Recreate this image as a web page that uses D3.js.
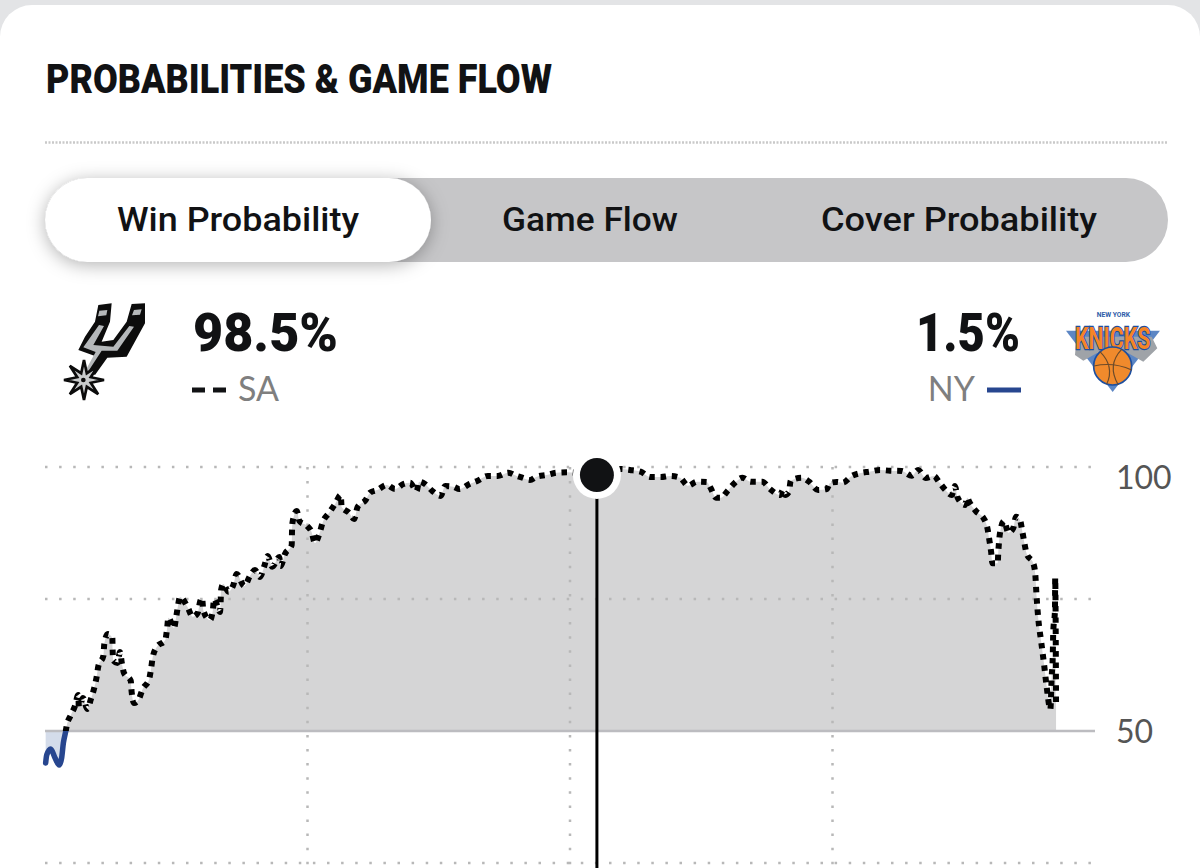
<!DOCTYPE html>
<html>
<head>
<meta charset="utf-8">
<script src="https://cdnjs.cloudflare.com/ajax/libs/d3/7.8.5/d3.min.js"></script>
<style>
  html, body { margin: 0; padding: 0; background: #fff; overflow: hidden; }
  svg { display: block; }
</style>
</head>
<body>
<div id="container"></div>
<script>
var svgWidth = 1200;
var svgHeight = 868;

// game clock in minutes and SA win probability
var gameMinutes = [0.03,0.08,0.26,0.46,0.65,0.76,0.84,0.95,0.99,1.17,1.37,1.52,1.55,1.74,1.93,2.10,2.25,2.36,2.44,2.67,
    2.71,2.87,3.08,3.09,3.12,3.31,3.43,3.51,3.61,3.92,3.96,4.07,4.27,4.47,4.75,4.85,4.92,5.11,5.50,5.58,
    5.64,5.90,5.99,6.07,6.17,6.51,6.75,6.98,7.09,7.18,7.24,7.54,7.67,7.73,8.00,8.03,8.05,8.15,8.38,8.61,
    8.76,9.11,9.37,9.60,9.83,10.03,10.18,10.39,10.71,10.77,10.97,11.28,11.29,11.32,11.51,11.63,11.98,12.18,12.34,12.54,
    12.69,12.98,13.26,13.52,13.56,13.91,14.13,14.29,14.66,14.86,15.19,15.62,16.00,16.38,16.69,16.99,17.10,17.37,17.71,18.09,
    18.29,18.67,18.94,19.40,19.78,20.24,20.69,21.18,21.56,21.82,22.17,22.48,22.93,23.39,23.88,25.23,26.29,26.74,27.23,27.66,
    28.16,28.57,29.03,29.39,29.81,30.25,30.43,30.67,30.90,31.21,31.54,31.89,32.26,32.79,33.14,33.60,33.74,33.83,34.01,34.09,
    34.59,34.93,35.34,35.74,35.89,36.19,36.47,36.88,37.29,37.68,38.17,38.63,39.16,39.62,39.92,40.26,40.64,40.87,41.19,41.45,
    41.60,41.72,42.06,42.16,42.25,42.55,42.93,43.09,43.17,43.25,43.31,43.55,43.58,43.62,43.69,43.84,44.04,44.26,44.39,44.57,
    44.68,44.77,44.88,45.18,45.27,45.33,45.41,45.54,45.67,45.79,45.96,46.02,46.07,46.09,46.17,46.18,46.22];
var winProb = [43.94,45.46,46.59,44.89,43.56,44.89,47.73,50,50.95,52.9,54.74,56.82,54.6,56.25,54.17,56.06,58.14,60.23,62.31,64.26,
    66.48,68.37,67.61,65.53,63.32,62.88,64.96,62.94,60.99,59.53,57.44,55.3,55.87,58.01,59.66,61.8,63.88,65.91,67.24,69.38,
    71.46,69.51,71.4,73.49,75.38,73.54,71.65,72.35,74.49,75.19,72.78,71.02,72.78,75,72.54,74.49,76.71,77.84,76.38,77.65,
    79.74,77.46,79.36,80.49,79.17,81.31,83.14,81.12,82.95,81.25,83.52,85.23,87.5,89.64,91.67,89.77,88.83,87.75,85.61,87.31,
    89.45,91.29,92.99,94.7,92.42,91.29,90.15,92.42,93.75,95.13,95.64,96.59,95.83,96.78,97.03,95.45,97.22,96.78,95.45,94.51,
    96.4,96.27,95.83,96.78,97.41,98.3,98.3,98.92,98.3,97.97,97.54,98.16,98.48,98.92,99,98.5,99.62,99.43,99.11,98.11,
    98.11,98.3,97.97,96.46,97.22,97.16,96.02,94.19,94.19,95.51,97.03,97.97,97.22,97.22,95.83,94.7,95.64,94.7,95.32,97.41,
    97.97,97.22,95.64,95.83,96.97,97.16,97.03,98.3,98.86,99.11,99.43,99.3,99.24,98.35,99.43,97.92,98.3,97.16,95.51,94.7,
    96.4,94.19,92.8,94.19,93.43,91.67,90.15,88.26,86.17,83.96,81.76,81.76,83.96,86.17,88.26,89.77,87.56,88.39,90.59,89.96,
    87.75,85.66,83.52,81.76,79.68,75.44,71.16,66.91,62.69,58.39,54.11,60.23,64.4,68.62,72.92,78.92,54.93];

var yTickLabels = [100, 50];
var yGridValues = [100, 75, 25];
var quarterBreaks = [12, 24, 36];
var tabNames = ['Win Probability', 'Game Flow', 'Cover Probability'];
var selectedMinute = 25.23;
var selectedProb = 98.5;
var saPct = '98.5%', nyPct = '1.5%';

var x = d3.scaleLinear().domain([0, 48]).range([45, 1095]);
var y = d3.scaleLinear().domain([0, 100]).range([995, 467]);

var points = gameMinutes.map(function (m, i) { return {m: m, p: winProb[i]}; });

var BLACK = '#111214', BLUE = '#27468f', GREY_TEXT = '#7f7f7f';
var headFont = '"Liberation Sans Narrow", "Roboto", sans-serif';
var tabFont = 'Roboto, sans-serif';

var svg = d3.select('#container').append('svg')
    .attr('width', svgWidth)
    .attr('height', svgHeight);

var defs = svg.append('defs');

var shadow = defs.append('filter').attr('id', 'pillShadow')
    .attr('x', '-10%').attr('y', '-40%').attr('width', '120%').attr('height', '180%');
shadow.append('feDropShadow')
    .attr('dx', 0).attr('dy', 3)
    .attr('stdDeviation', 9)
    .attr('flood-color', '#000')
    .attr('flood-opacity', 0.3);

defs.append('clipPath').attr('id', 'above')
    .append('rect').attr('x', 0).attr('y', 0).attr('width', svgWidth).attr('height', y(50));
defs.append('clipPath').attr('id', 'below')
    .append('rect').attr('x', 0).attr('y', y(50)).attr('width', svgWidth).attr('height', svgHeight - y(50));

// card
svg.append('rect').attr('width', svgWidth).attr('height', svgHeight).attr('fill', '#e3e4e6');
svg.append('rect')
    .attr('x', 0).attr('y', 5)
    .attr('width', svgWidth).attr('height', svgHeight + 60)
    .attr('rx', 32)
    .attr('fill', '#fff');

svg.append('text')
    .attr('x', 46).attr('y', 93)
    .attr('textLength', 506).attr('lengthAdjust', 'spacingAndGlyphs')
    .style('font-family', headFont)
    .style('font-weight', 900)
    .style('font-size', '41px')
    .attr('fill', BLACK)
    .text('PROBABILITIES & GAME FLOW');

svg.append('line')
    .attr('x1', 45).attr('x2', 1168)
    .attr('y1', 142.5).attr('y2', 142.5)
    .attr('stroke', '#c9c9c9')
    .attr('stroke-width', 2.5)
    .attr('stroke-dasharray', '2 1.5');

// tabs
svg.append('rect')
    .attr('x', 45).attr('y', 178)
    .attr('width', 1123).attr('height', 84)
    .attr('rx', 42)
    .attr('fill', '#c6c6c8');
svg.append('rect')
    .attr('x', 45).attr('y', 178)
    .attr('width', 386).attr('height', 84)
    .attr('rx', 42)
    .attr('fill', '#fff')
    .attr('filter', 'url(#pillShadow)');

var tabX = [117, 502, 821];
var tabW = [242, 176, 276];
svg.selectAll('.tab').data(tabNames).enter().append('text')
    .attr('class', 'tab')
    .attr('x', function (d, i) { return tabX[i]; })
    .attr('y', 231)
    .attr('textLength', function (d, i) { return tabW[i]; })
    .attr('lengthAdjust', 'spacingAndGlyphs')
    .style('font-family', tabFont)
    .style('font-weight', 500)
    .style('font-size', '33px')
    .attr('fill', BLACK)
    .text(function (d) { return d; });

// team header
svg.append('text')
    .attr('x', 193).attr('y', 351)
    .attr('textLength', 145).attr('lengthAdjust', 'spacingAndGlyphs')
    .style('font-family', tabFont).style('font-weight', 900).style('font-size', '53px')
    .attr('fill', BLACK)
    .text(saPct);
svg.append('text')
    .attr('x', 1020).attr('y', 351)
    .attr('text-anchor', 'end')
    .style('font-family', tabFont).style('font-weight', 900).style('font-size', '53px')
    .attr('textLength', 104).attr('lengthAdjust', 'spacingAndGlyphs')
    .attr('fill', BLACK)
    .text(nyPct);

svg.append('text')
    .attr('x', 238).attr('y', 401)
    .style('font-family', 'Lato, sans-serif').style('font-size', '34px')
    .attr('fill', GREY_TEXT)
    .text('SA');
svg.append('text')
    .attr('x', 975).attr('y', 401)
    .attr('text-anchor', 'end')
    .style('font-family', 'Lato, sans-serif').style('font-size', '34px')
    .attr('fill', GREY_TEXT)
    .text('NY');

svg.append('line')
    .attr('x1', 192).attr('x2', 226)
    .attr('y1', 390).attr('y2', 390)
    .attr('stroke', BLACK).attr('stroke-width', 5)
    .attr('stroke-dasharray', '13 8');
svg.append('line')
    .attr('x1', 987).attr('x2', 1021)
    .attr('y1', 390).attr('y2', 390)
    .attr('stroke', BLUE).attr('stroke-width', 5);

// spurs logo, traced in zoomed coords
var spurs = svg.append('g').attr('transform', 'translate(30,290) scale(0.3333)');
spurs.append('path')
    .attr('d', 'M205,45 L245,40 L240,95 L215,155 L250,150 L290,95 L305,42 L345,40 L345,100 L290,200 L232,203 L195,255 L170,240 L195,198 L145,180 L165,140 L195,95 Z')
    .attr('fill', '#0c0c0c');
spurs.append('path')
    .attr('d', 'M207,105 L222,108 L190,165 L250,170 L298,108 L312,110 L262,182 L215,182 L172,248 L166,242 L197,186 L160,172 Z')
    .attr('fill', '#b5b8ba');
spurs.append('path')
    .attr('d', 'M208,62 L232,60 L229,76 L204,79 Z M312,60 L335,58 L330,74 L306,76 Z')
    .attr('fill', '#b5b8ba');
var starAngles = d3.range(16).map(function (i) { return i * Math.PI / 8; });
var starLine = d3.lineRadial()
    .angle(function (a) { return a; })
    .radius(function (a, i) { return i % 2 === 0 ? 60 : 22; })
    .curve(d3.curveLinearClosed);
spurs.append('path')
    .attr('transform', 'translate(162,270)')
    .attr('d', starLine(starAngles))
    .attr('fill', '#c9cbcc')
    .attr('stroke', '#0c0c0c')
    .attr('stroke-width', 8)
    .attr('stroke-linejoin', 'miter');
spurs.append('circle').attr('cx', 160).attr('cy', 270).attr('r', 7).attr('fill', '#0c0c0c');

// knicks logo
var knicks = svg.append('g').attr('transform', 'translate(880,290) scale(0.3333)');
knicks.append('path')
    .attr('d', 'M558,122 L840,122 L698,306 Z')
    .attr('fill', '#5c86c4');
knicks.append('path')
    .attr('d', 'M585,195 L610,212 L650,190 L745,190 L790,215 L832,175 L815,140 L590,140 Z')
    .attr('fill', '#9fa3a8');
knicks.append('text')
    .attr('x', 698).attr('y', 178)
    .attr('text-anchor', 'middle')
    .attr('textLength', 226).attr('lengthAdjust', 'spacingAndGlyphs')
    .style('font-family', headFont).style('font-weight', 700).style('font-size', '94px')
    .attr('fill', '#f58426')
    .attr('stroke', '#1d4f9f').attr('stroke-width', 7)
    .attr('paint-order', 'stroke')
    .text('KNICKS');
knicks.append('text')
    .attr('x', 700).attr('y', 82)
    .attr('text-anchor', 'middle')
    .attr('textLength', 100).attr('lengthAdjust', 'spacingAndGlyphs')
    .style('font-family', headFont).style('font-weight', 700).style('font-size', '20px')
    .attr('fill', '#2d5ca8')
    .text('NEW YORK');
knicks.append('circle')
    .attr('cx', 698).attr('cy', 228).attr('r', 57)
    .attr('fill', '#f08a2c')
    .attr('stroke', '#1d4f9f').attr('stroke-width', 5);
knicks.append('path')
    .attr('d', 'M660,185 Q705,230 680,283 M725,178 Q680,225 715,285 M642,228 Q700,215 755,240')
    .attr('fill', 'none').attr('stroke', '#6b4a2a').attr('stroke-width', 3.5);

// chart
var chart = svg.append('g');

var area = d3.area()
    .x(function (d) { return x(d.m); })
    .y0(y(50))
    .y1(function (d) { return y(d.p); })
    .curve(d3.curveMonotoneX);
var line = d3.line()
    .x(function (d) { return x(d.m); })
    .y(function (d) { return y(d.p); })
    .curve(d3.curveMonotoneX);

chart.append('path')
    .datum(points)
    .attr('d', area)
    .attr('fill', '#d5d5d6')
    .attr('clip-path', 'url(#above)');
chart.append('path')
    .datum(points)
    .attr('d', area)
    .attr('fill', '#d4dcea')
    .attr('clip-path', 'url(#below)');

chart.selectAll('.h-grid').data(yGridValues).enter().append('line')
    .attr('class', 'h-grid')
    .attr('x1', x(0)).attr('x2', x(48))
    .attr('y1', function (d) { return y(d); })
    .attr('y2', function (d) { return y(d); })
    .attr('stroke', '#b8b8b8')
    .attr('stroke-width', 2.5)
    .attr('stroke-dasharray', '2.5 11.6');
chart.selectAll('.v-grid').data(quarterBreaks).enter().append('line')
    .attr('class', 'v-grid')
    .attr('x1', function (d) { return x(d); })
    .attr('x2', function (d) { return x(d); })
    .attr('y1', y(100)).attr('y2', svgHeight)
    .attr('stroke', '#b8b8b8')
    .attr('stroke-width', 2.5)
    .attr('stroke-dasharray', '2.5 11.6');

chart.append('line')
    .attr('x1', x(0)).attr('x2', x(48))
    .attr('y1', y(50)).attr('y2', y(50))
    .attr('stroke', '#bcbcc0')
    .attr('stroke-width', 2.5);

var axis = d3.axisRight(y)
    .tickValues(yTickLabels)
    .tickSize(0)
    .tickPadding(21);
var axisG = chart.append('g')
    .attr('transform', 'translate(' + x(48) + ',0)')
    .call(axis);
axisG.select('.domain').remove();
axisG.selectAll('text')
    .style('font-family', 'Lato, sans-serif')
    .style('font-size', '32px')
    .attr('fill', '#555')
    // the top label sits under its gridline
    .attr('dy', function (d) { return d === 100 ? '0.66em' : '0.36em'; });

chart.append('path')
    .datum(points)
    .attr('d', line)
    .attr('fill', 'none')
    .attr('stroke', BLUE)
    .attr('stroke-width', 5.5)
    .attr('stroke-linecap', 'round')
    .attr('clip-path', 'url(#below)');
chart.append('path')
    .datum(points)
    .attr('d', line)
    .attr('fill', 'none')
    .attr('stroke', '#000')
    .attr('stroke-width', 6)
    .attr('stroke-dasharray', '5.5 5.8')
    .attr('clip-path', 'url(#above)');

// selected moment
chart.append('line')
    .attr('x1', x(selectedMinute)).attr('x2', x(selectedMinute))
    .attr('y1', y(selectedProb)).attr('y2', svgHeight)
    .attr('stroke', '#000')
    .attr('stroke-width', 3);
chart.append('circle')
    .attr('cx', x(selectedMinute)).attr('cy', y(selectedProb))
    .attr('r', 24)
    .attr('fill', '#fff');
chart.append('circle')
    .attr('cx', x(selectedMinute)).attr('cy', y(selectedProb))
    .attr('r', 17)
    .attr('fill', BLACK);
</script>
</body>
</html>
